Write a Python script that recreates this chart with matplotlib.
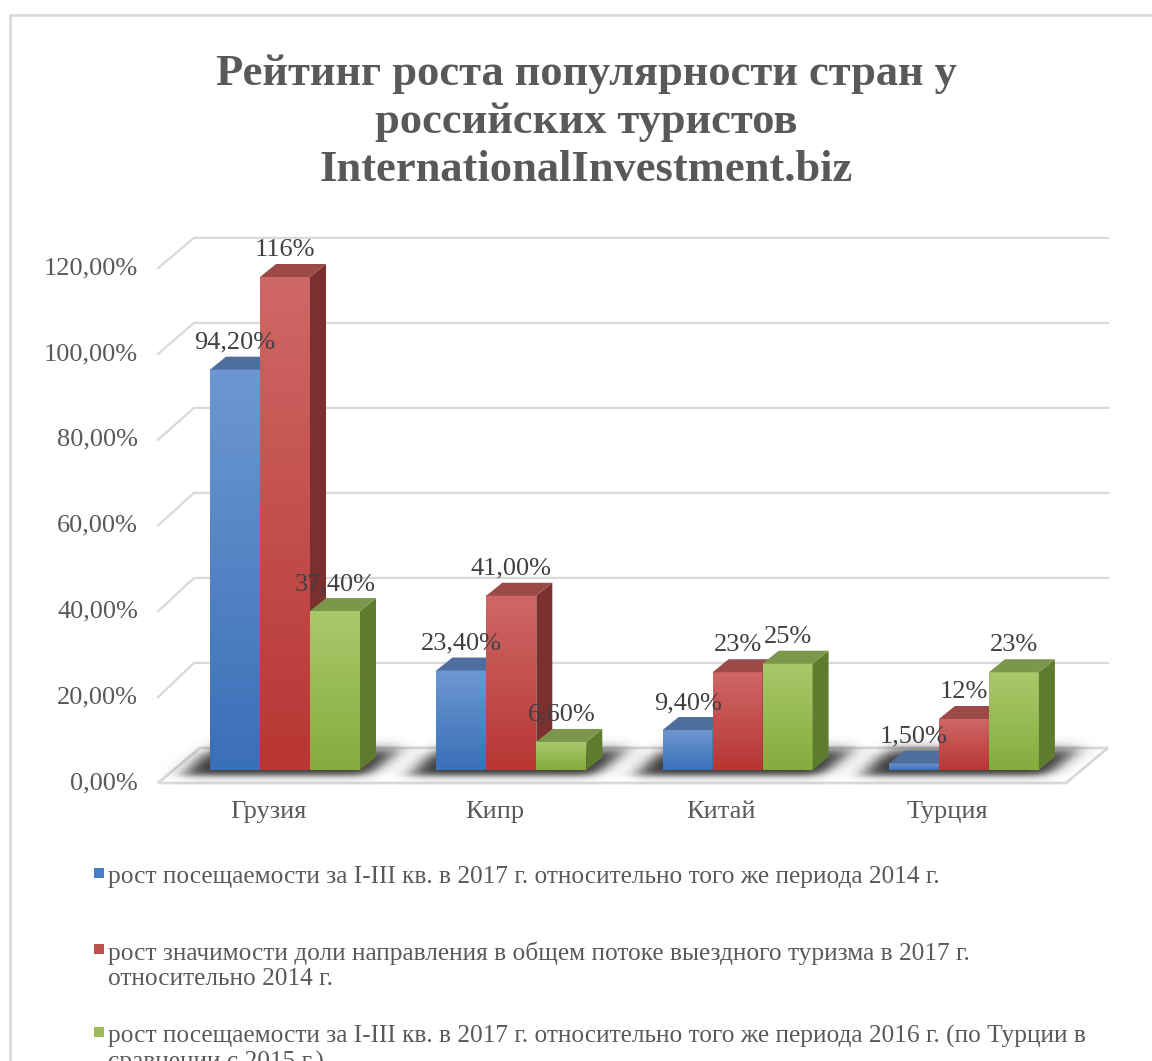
import numpy as np
import matplotlib
matplotlib.use('Agg')
import matplotlib.pyplot as plt
from matplotlib.colors import LinearSegmentedColormap, to_rgb
from matplotlib.patches import Polygon, Rectangle

# данные с диаграммы
countries = ['Грузия', 'Кипр', 'Китай', 'Турция']
visits_vs_2014 = [94.2, 23.4, 9.4, 1.5]
share_vs_2014 = [116.0, 41.0, 23.0, 12.0]
visits_vs_2016 = [37.4, 6.6, 25.0, 23.0]
labels_visits_2014 = ['94,20%', '23,40%', '9,40%', '1,50%']
labels_share_2014 = ['116%', '41,00%', '23%', '12%']
labels_visits_2016 = ['37,40%', '6,60%', '25%', '23%']
y_ticks = [0, 20, 40, 60, 80, 100, 120]
series_names = [
    'рост посещаемости за I-III кв. в 2017 г. относительно того же периода 2014 г.',
    'рост значимости доли направления в общем потоке выездного туризма в 2017 г.\nотносительно 2014 г.',
    'рост посещаемости за I-III кв. в 2017 г. относительно того же периода 2016 г. (по Турции в\nсравнении с 2015 г.)',
]

W, H = 1152, 1061
X0PX, XSTEP = 285.0, 226.3     # центр первой группы и шаг групп, px
Y0PX, YSCALE = 770.0, 4.25     # основание столбцов и px на 1 %


def ux(px):
    return (px - X0PX) / XSTEP


def uy(py):
    return (Y0PX - py) / YSCALE


FONT = 'Liberation Serif'
GRID = '#D9D9D9'
TXT = '#595959'

fig = plt.figure(figsize=(W / 100, H / 100), dpi=100)
ax = fig.add_axes([0, 0, 1, 1])
ax.axis('off')

# рамка
ax.plot([ux(10), ux(10), ux(W + 5)], [uy(H + 5), uy(15), uy(15)], color=GRID, lw=2, zorder=0)

# стенка и пол
front = lambda v: v * 1.0094 - 3.06
back = lambda v: v + 5.2
for v in y_ticks[1:]:
    ax.plot([ux(158), ux(194), ux(1108)], [front(v), back(v), back(v)], color=GRID, lw=1.6, zorder=1)
floor = Polygon([(ux(158), front(0)), (ux(200), back(0)), (ux(1108), back(0)), (ux(1066), front(0))],
                closed=True, facecolor='white', edgecolor=GRID, lw=2, zorder=1)
ax.add_patch(floor)

# подписи оси Y
for v in y_ticks:
    ax.text(ux(138), front(v), f'{v:.2f}'.replace('.', ',') + '%', ha='right', va='center',
            fontsize=19, family=FONT, color=TXT)

bw = 50 / XSTEP
ddx = 16 / XSTEP
ddy = 13 / YSCALE

series = [
    (visits_vs_2014, labels_visits_2014, ('#3A70B8', '#6D97D2'), '#345E98', '#4D6E9E', '#4A7EC4'),
    (share_vs_2014, labels_share_2014, ('#B83634', '#CE6866'), '#7A302E', '#9C4A48', '#C0504D'),
    (visits_vs_2016, labels_visits_2016, ('#84AC3E', '#A9C96B'), '#5F7B2E', '#7C974B', '#9BBB59'),
]

# тени под группами (размытый параллелограмм на полу)
xs = np.linspace(-0.56, 0.6, 300)
ys = np.linspace(-4, 8, 90)
XX, YY = np.meshgrid(xs * XSTEP, ys)        # XX в px от центра группы
sig = lambda z: 1 / (1 + np.exp(-z))
y_f, y_b = -1.3, 4.8
t = np.clip((YY - y_f) / (y_b - y_f), 0, 1)
left = -75 - 27 + t * 25
right = 75 + 8 + t * 32
alpha = (sig((XX - left) / 6) * sig((right - XX) / 6)
         * sig((YY - y_f) / 0.5) * sig((y_b - YY) / 0.8))
shadow = np.zeros(alpha.shape + (4,))
shadow[..., :3] = to_rgb('#1C1C1C')
shadow[..., 3] = 0.9 * alpha
for i in range(len(countries)):
    ax.imshow(shadow, extent=[i + xs[0], i + xs[-1], ys[0], ys[-1]], origin='lower',
              aspect='auto', interpolation='bilinear', zorder=2)

# столбцы
for i in range(len(countries)):
    for k, (vals, labs, (c_bot, c_top), c_side, c_roof, _) in enumerate(series):
        v = vals[i]
        x0 = i + (k - 1.5) * bw
        x1 = x0 + bw
        z = 3 + k
        cmap = LinearSegmentedColormap.from_list('g', [c_bot, c_top])
        ax.imshow(np.linspace(0, 1, 64).reshape(-1, 1), extent=[x0, x1, 0, v], origin='lower',
                  cmap=cmap, aspect='auto', interpolation='bilinear', zorder=z)
        ax.add_patch(Polygon([(x1, 0), (x1 + ddx, ddy), (x1 + ddx, v + ddy), (x1, v)],
                             closed=True, facecolor=c_side, lw=0, zorder=z))
        ax.add_patch(Polygon([(x0, v), (x0 + ddx, v + ddy), (x1 + ddx, v + ddy), (x1, v)],
                             closed=True, facecolor=c_roof, lw=0, zorder=z))
        ax.text((x0 + x1) / 2, v + 27 / YSCALE, labs[i], ha='center', va='center',
                fontsize=19, family=FONT, color='#404040', zorder=10)
    ax.text(i - 17 / XSTEP, uy(812), countries[i], ha='center', va='center',
            fontsize=19, family=FONT, color=TXT)

# заголовок
ax.text(ux(586), uy(122), 'Рейтинг роста популярности стран у\nроссийских туристов\nInternationalInvestment.biz',
        ha='center', va='center', fontsize=32, fontweight='bold', family=FONT, color=TXT,
        linespacing=1.25)

# легенда
leg_y = [877, 953, 1036]
for (vals, labs, grad, c_side, c_roof, c_leg), name, py in zip(series, series_names, leg_y):
    ax.add_patch(Rectangle((ux(94), uy(py + 1)), 10 / XSTEP, 10 / YSCALE, facecolor=c_leg, lw=0))
    for j, line in enumerate(name.split('\n')):
        ax.text(ux(108), uy(py + 26 * j), line, ha='left', va='center', fontsize=18.3,
                family=FONT, color=TXT)

ax.set_xlim(ux(0), ux(W))
ax.set_ylim(uy(H), uy(0))
fig.savefig('out.png', dpi=100)
